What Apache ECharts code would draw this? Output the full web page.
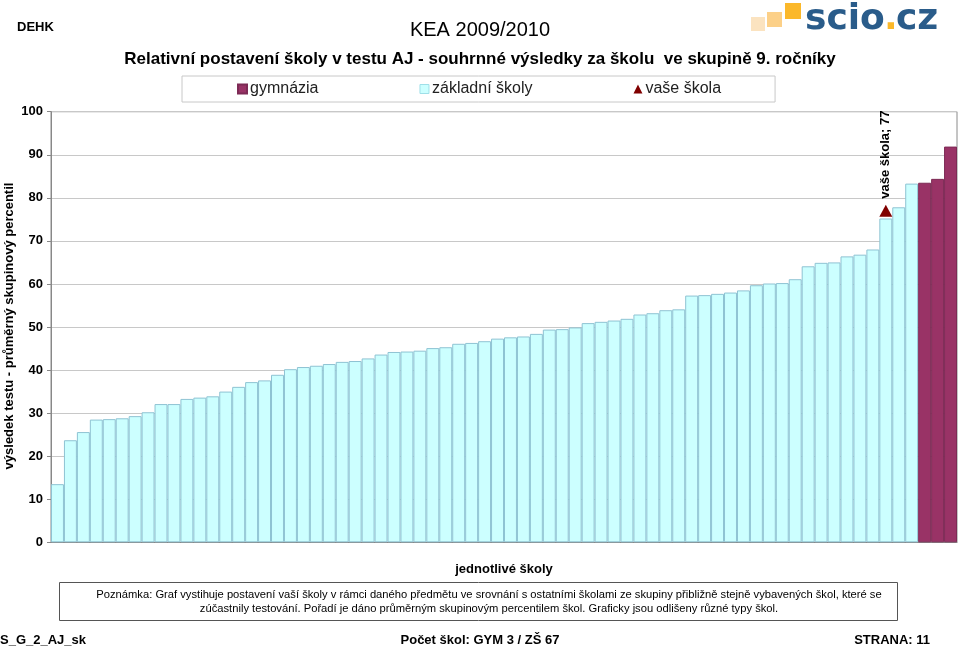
<!DOCTYPE html>
<html>
<head>
<meta charset="utf-8">
<script src="https://cdn.jsdelivr.net/npm/echarts@6/dist/echarts.min.js"></script>
<style>
html,body{margin:0;padding:0;background:#fff;}
#c{width:960px;height:649px;}
</style>
</head>
<body>
<div id="c"></div>
<script>
// ---- data ----
const zsValues = [13.5, 23.7, 25.6, 28.5, 28.6, 28.8, 29.3, 30.2, 32.1, 32.1,
  33.3, 33.6, 33.9, 35.0, 36.1, 37.2, 37.6, 38.9, 40.2, 40.7,
  41.0, 41.4, 41.9, 42.1, 42.7, 43.6, 44.2, 44.3, 44.5, 45.1,
  45.3, 46.1, 46.3, 46.7, 47.3, 47.6, 47.8, 48.4, 49.4, 49.5,
  49.9, 50.9, 51.2, 51.5, 51.9, 52.9, 53.2, 53.9, 54.1, 57.3,
  57.4, 57.7, 58.0, 58.5, 59.7, 60.1, 60.2, 61.1, 64.1, 64.9,
  65.0, 66.4, 66.8, 68.0, 75.2, 77.8, 83.3];
const gymValues = [83.5, 84.4, 91.9];
const schoolIndex = 64;
const schoolValue = 77;
const yTicks = [0, 10, 20, 30, 40, 50, 60, 70, 80, 90, 100];
const seriesNames = ['gymnázia', 'základní školy', 'vaše škola'];

const total = zsValues.length + gymValues.length;
const categories = Array.from({length: total}, (_, i) => String(i + 1));
const zsData = categories.map((_, i) => i < zsValues.length ? zsValues[i] : null);
const gymData = categories.map((_, i) => i >= zsValues.length ? gymValues[i - zsValues.length] : null);
const schoolData = categories.map((_, i) => i === schoolIndex ? schoolValue : null);

const chart = echarts.init(document.getElementById('c'));
const F = 'Liberation Sans, Arial, sans-serif';
chart.setOption({
  animation: false,
  backgroundColor: '#fff',
  textStyle: {fontFamily: F},
  title: [
    {text: 'DEHK', left: 12, top: 16, textStyle: {fontSize: 13, fontWeight: 'bold', color: '#000', fontFamily: F}},
    {text: 'KEA 2009/2010', left: 'center', top: 15, textStyle: {fontSize: 20, fontWeight: 'normal', color: '#000', fontFamily: F}},
    {text: 'Relativní postavení školy v testu AJ - souhrnné výsledky za školu  ve skupině 9. ročníky', left: 'center', top: 46, textStyle: {fontSize: 17, fontWeight: 'bold', color: '#000', fontFamily: F}}
  ],
  legend: {
    left: 182, top: 76, width: 590,
    padding: [5, 54, 5, 55],
    borderColor: '#c8c8c8', borderWidth: 1,
    itemWidth: 9, itemHeight: 9, itemGap: 101,
    textStyle: {fontSize: 16, color: '#222', fontFamily: F, padding: [0, 0, 0, -2]},
    data: [
      {name: seriesNames[0], icon: 'rect'},
      {name: seriesNames[1], icon: 'rect', itemStyle: {borderColor: '#9fdfe8', borderWidth: 1}},
      {name: seriesNames[2], icon: 'triangle'}
    ]
  },
  grid: {left: 51, right: 3, top: 111.7, bottom: 106.7, containLabel: false, outerBoundsMode: 'none',
    show: true, borderColor: '#8a8a8a', borderWidth: 1},
  xAxis: {
    type: 'category', data: categories,
    name: 'jednotlivé školy', nameLocation: 'middle', nameGap: 21,
    nameTextStyle: {fontSize: 13, fontWeight: 'bold', color: '#000', fontFamily: F},
    axisLabel: {show: false}, axisTick: {show: false},
    axisLine: {lineStyle: {color: '#888'}}
  },
  yAxis: {
    type: 'value', min: yTicks[0], max: yTicks[yTicks.length - 1], interval: 10,
    axisLabel: {fontSize: 13, fontWeight: 'bold', color: '#000', margin: 8, fontFamily: F},
    axisTick: {show: true, length: 4, lineStyle: {color: '#888'}},
    axisLine: {show: true, lineStyle: {color: '#888'}},
    splitLine: {lineStyle: {color: '#c8c8c8'}}
  },
  series: [
    {name: seriesNames[1], type: 'bar', data: zsData, barWidth: '100%', barGap: '-100%',
      itemStyle: {color: '#ccffff', borderColor: '#8ec3d3', borderWidth: 1}},
    {name: seriesNames[0], type: 'bar', data: gymData, barWidth: '100%', barGap: '-100%',
      itemStyle: {color: '#993366', borderColor: '#7d2a55', borderWidth: 1}},
    {name: seriesNames[2], type: 'scatter', data: schoolData, symbol: 'triangle', symbolSize: [13, 12],
      itemStyle: {color: '#800000', opacity: 1}, z: 5,
      label: {show: true, position: 'top', rotate: 90, distance: 6, align: 'left', verticalAlign: 'middle',
        formatter: p => 'vaše škola; ' + p.value, fontSize: 13, fontWeight: 'bold', color: '#000', fontFamily: F}}
  ],
  graphic: [
    // y axis title
    {type: 'text', x: 9, y: 326, rotation: Math.PI / 2, style: {
      text: 'výsledek testu - průměrný skupinový percentil', font: 'bold 13px ' + F, fill: '#000',
      align: 'center', verticalAlign: 'middle'}},
    // logo
    {type: 'rect', left: 751, top: 17, shape: {width: 14, height: 14}, style: {fill: '#fbe3c0'}},
    {type: 'rect', left: 767, top: 12, shape: {width: 15, height: 15}, style: {fill: '#fcd088'}},
    {type: 'rect', left: 785, top: 3, shape: {width: 16, height: 16}, style: {fill: '#fbb82a'}},
    {type: 'text', left: 805, top: 2, style: {text: 'scio', font: 'bold 36px DejaVu Sans', fill: '#2a5c8a'}},
    {type: 'text', left: 884, top: 2, style: {text: '.', font: 'bold 36px DejaVu Sans', fill: '#fbb82a'}},
    {type: 'text', left: 896, top: 2, style: {text: 'cz', font: 'bold 36px DejaVu Sans', fill: '#2a5c8a'}},
    // note box
    {type: 'rect', left: 59, top: 582, shape: {width: 838, height: 38}, style: {fill: '#fff', stroke: '#555', lineWidth: 1}},
    {type: 'text', x: 489, y: 588, style: {
      text: 'Poznámka: Graf vystihuje postavení vaší školy v rámci daného předmětu ve srovnání s ostatními školami ze skupiny přibližně stejně vybavených škol, které se\nzúčastnily testování. Pořadí je dáno průměrným skupinovým percentilem škol. Graficky jsou odlišeny různé typy škol.',
      font: '11.2px ' + F, fill: '#000', align: 'center', lineHeight: 14}},
    // footer
    {type: 'text', left: 0, top: 634, style: {text: 'S_G_2_AJ_sk', font: 'bold 13px ' + F, fill: '#000'}},
    {type: 'text', left: 'center', top: 634, style: {text: 'Počet škol: GYM 3 / ZŠ 67', font: 'bold 13px ' + F, fill: '#000'}},
    {type: 'text', right: 30, top: 634, style: {text: 'STRANA: 11', font: 'bold 13px ' + F, fill: '#000'}}
  ]
});
</script>
</body>
</html>
